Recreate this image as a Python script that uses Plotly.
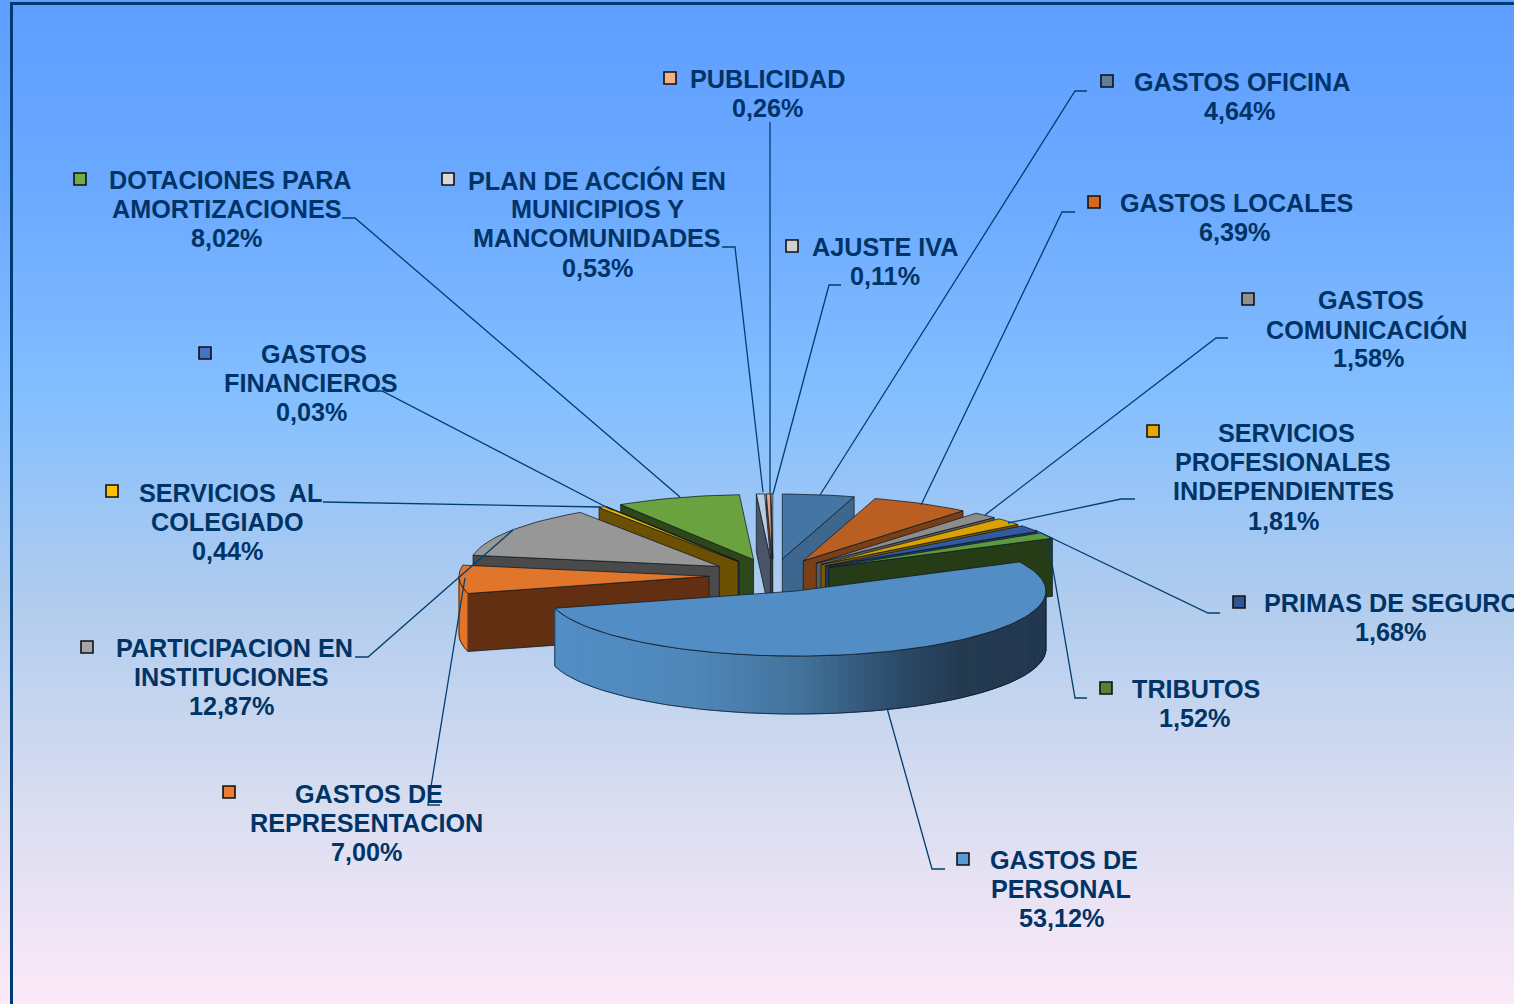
import math
import plotly.graph_objects as go

# ---------- data ----------
CATEGORIES = ["GASTOS OFICINA", "GASTOS LOCALES", "GASTOS COMUNICACIÓN", "SERVICIOS PROFESIONALES INDEPENDIENTES",
              "PRIMAS DE SEGURO", "TRIBUTOS", "GASTOS DE PERSONAL", "GASTOS DE REPRESENTACION",
              "PARTICIPACION EN INSTITUCIONES", "SERVICIOS AL COLEGIADO", "GASTOS FINANCIEROS",
              "DOTACIONES PARA AMORTIZACIONES", "PLAN DE ACCIÓN EN MUNICIPIOS Y MANCOMUNIDADES",
              "PUBLICIDAD", "AJUSTE IVA"]
VALUES = [4.64, 6.39, 1.58, 1.81, 1.68, 1.52, 53.12, 7.00, 12.87, 0.44, 0.03, 8.02, 0.53, 0.26, 0.11]
TOP_COLORS = ["#4575a2", "#b95f22", "#8c8c8c", "#dba100", "#325a9e", "#5d9a3e", "#528ec5", "#e0752c",
              "#979797", "#f5b800", "#3a66ad", "#69a23f", "#b8cce4", "#e8a584", "#c9c9c9"]
WALL_COLORS = ["#3e678f", "#7a3f16", "#5a5a5a", "#7a5a00", "#1f3866", "#263c16", "#3f6a92", "#632f12",
               "#4a4a4a", "#6a5000", "#1f3866", "#2d4719", "#4a5568", "#6b4a3a", "#555555"]
KEY_COLORS = ["#5f7f99", "#d2691e", "#909090", "#e6a800", "#2f5597", "#548235", "#5b9bd5", "#ed7d31",
              "#a5a5a5", "#ffc000", "#4472c4", "#70ad47", "#d9d9d9", "#f4b183", "#d0d0d0"]
LABEL_LINES = [["GASTOS OFICINA"], ["GASTOS LOCALES"], ["GASTOS", "COMUNICACIÓN"],
               ["SERVICIOS", "PROFESIONALES", "INDEPENDIENTES"], ["PRIMAS DE SEGURO"], ["TRIBUTOS"],
               ["GASTOS DE", "PERSONAL"], ["GASTOS DE", "REPRESENTACION"], ["PARTICIPACION EN", "INSTITUCIONES"],
               ["SERVICIOS\u00a0 AL", "COLEGIADO"], ["GASTOS", "FINANCIEROS"], ["DOTACIONES PARA", "AMORTIZACIONES"],
               ["PLAN DE ACCIÓN EN", "MUNICIPIOS Y", "MANCOMUNIDADES"], ["PUBLICIDAD"], ["AJUSTE IVA"]]

# ---------- layout (pixel space) ----------
W, H = 1514, 1004
CX, CY = 773, 575.5
RX, RY = 250, 65
DEPTH = 58
EXPLODE = 0.256
LABEL_X = [[1242, 1239], [1236, 1234], [1371, 1367, 1368], [1286, 1283, 1283, 1283], [1392, 1390], [1196, 1194],
           [1064, 1061, 1061], [369, 366, 366], [234, 231, 231], [230, 227, 227], [314, 311, 311], [230, 226, 226],
           [597, 597, 597, 597], [767, 767], [885, 885]]
LABEL_Y = [82, 203, 300, 433, 603, 689, 860, 794, 648, 493, 354, 180, 180, 79, 247]
KEY_X = [1107, 1094, 1248, 1153, 1239, 1106, 963, 229, 87, 112, 205, 80, 448, 670, 792]
KEY_Y = [81, 202, 299, 431, 602, 688, 859, 792, 647, 491, 353, 179, 179, 78, 246]
LEADERS = [
    [(1087, 91), (1075, 91), (820, 495)], [(1075, 212), (1062, 212), (921, 505)],
    [(1228, 338), (1216, 338), (985, 515)], [(1135, 499), (1121, 499), (1008, 523)],
    [(1220, 613), (1208, 613), (1035, 530)], [(1087, 698), (1075, 698), (1048, 540)],
    [(945, 869), (932, 869), (887, 708)], [(440, 805), (428, 805), (465, 578)],
    [(355, 657), (368, 657), (513, 530)], [(323, 502), (601, 507)],
    [(370, 391), (382, 391), (612, 510)], [(342, 218), (355, 218), (680, 497)],
    [(722, 247), (735, 247), (763, 492)], [(770, 122), (770, 494)], [(841, 285), (829, 285), (773, 494)],
]
TEXT_COLOR = "#003366"
LEADER_COLOR = "#003f70"
EDGE = "rgba(15,25,35,0.75)"
BG_STOPS = [(5, "#5e9eff"), (200, "#6caaff"), (400, "#84bfff"), (600, "#b0ccee"), (800, "#d8ddf0"), (1004, "#fce9f8")]
WALL_GRADIENT = [(551, "#528fc6"), (700, "#4f86b8"), (800, "#43729b"), (900, "#2b4a68"), (960, "#243a50"), (1050, "#22384f")]


def hex_rgb(c):
    return [int(c[i:i + 2], 16) for i in (1, 3, 5)]


def grad(x, stops):
    if x <= stops[0][0]:
        return stops[0][1]
    for (a, ca), (b, cb) in zip(stops, stops[1:]):
        if x <= b:
            t = (x - a) / (b - a)
            p, q = hex_rgb(ca), hex_rgb(cb)
            return "#%02x%02x%02x" % tuple(round(u + (v - u) * t) for u, v in zip(p, q))
    return stops[-1][1]


fig = go.Figure()

# background gradient
ys = [s[0] for s in BG_STOPS]
span = ys[-1] - ys[0]
fig.add_trace(go.Heatmap(
    x=[13, W], y=ys, z=[[y, y] for y in ys], zsmooth="best", showscale=False, hoverinfo="skip",
    colorscale=[[(y - ys[0]) / span, c] for y, c in BG_STOPS]))


def poly(pts, fill, line=None, width=1):
    xs = [p[0] for p in pts]
    yy = [p[1] for p in pts]
    fig.add_trace(go.Scatter(
        x=xs, y=yy, mode="lines", fill="toself" if fill else None, fillcolor=fill,
        line=dict(color=line or fill or "rgba(0,0,0,0)", width=width), hoverinfo="skip", showlegend=False))


total = sum(VALUES)
spans = []
acc = 0.0
for v in VALUES:
    spans.append((acc / total * 360, (acc + v) / total * 360))
    acc += v


def pt(ax, ay, deg):
    r = math.radians(deg)
    return (ax + RX * math.sin(r), ay - RY * math.cos(r))


# painter's order: back slices first
order = sorted(range(len(VALUES)), key=lambda i: math.cos(math.radians(sum(spans[i]) / 2)), reverse=True)
for i in order:
    a0, a1 = spans[i]
    mid = math.radians((a0 + a1) / 2)
    ax = CX + EXPLODE * RX * math.sin(mid)
    ay = CY - EXPLODE * RY * math.cos(mid)
    n = max(2, int((a1 - a0) / 2) + 1)
    arc = [pt(ax, ay, a0 + (a1 - a0) * k / n) for k in range(n + 1)]
    # only the radial wall that faces the viewer
    visible = []
    if math.sin(math.radians(a0)) < -1e-6:
        visible.append(arc[0])
    if math.sin(math.radians(a1)) > 1e-6:
        visible.append(arc[-1])
    for edge_pt in visible:
        poly([(ax, ay), edge_pt, (edge_pt[0], edge_pt[1] + DEPTH), (ax, ay + DEPTH), (ax, ay)],
             WALL_COLORS[i], EDGE)
    # front outer wall
    f0, f1 = max(a0, 90), min(a1, 270)
    if f1 > f0:
        m = max(1, int((f1 - f0) / 2))
        front = [pt(ax, ay, f0 + (f1 - f0) * k / m) for k in range(m + 1)]
        for p, q in zip(front, front[1:]):
            col = grad((p[0] + q[0]) / 2, WALL_GRADIENT) if VALUES[i] > 50 else TOP_COLORS[i]
            poly([p, q, (q[0], q[1] + DEPTH), (p[0], p[1] + DEPTH), p], col, col)
        outline = front + [(x, y + DEPTH) for x, y in reversed(front)] + [front[0]]
        poly(outline, None, EDGE)
    poly([(ax, ay)] + arc + [(ax, ay)], TOP_COLORS[i], EDGE)

# leader lines
for leader in LEADERS:
    fig.add_trace(go.Scatter(x=[p[0] for p in leader], y=[p[1] for p in leader], mode="lines",
                             line=dict(color=LEADER_COLOR, width=1.3), hoverinfo="skip", showlegend=False))

# legend keys
fig.add_trace(go.Scatter(x=KEY_X, y=KEY_Y, mode="markers", hoverinfo="skip", showlegend=False,
                         marker=dict(symbol="square", size=12, color=KEY_COLORS, line=dict(color="#111111", width=1.6))))

# labels
annotations = []
for i, lines in enumerate(LABEL_LINES):
    pct = f"{VALUES[i]:.2f}%".replace(".", ",")
    rows = lines + [pct]
    for k, text in enumerate(rows):
        annotations.append(dict(x=LABEL_X[i][k], y=LABEL_Y[i] + k * 29.2, xref="x", yref="y", text=text,
                                showarrow=False, xanchor="center", yanchor="middle",
                                font=dict(family="Liberation Sans", size=25.2, color=TEXT_COLOR, weight=700)))

frame = [
    dict(type="line", x0=11.5, x1=11.5, y0=2, y1=H, line=dict(color="#003c71", width=3), layer="above"),
    dict(type="line", x0=10, x1=W, y0=3.5, y1=3.5, line=dict(color="#003c71", width=3), layer="above"),
]

fig.update_layout(
    width=W, height=H, margin=dict(l=0, r=0, t=0, b=0), paper_bgcolor="#b8cbe6", plot_bgcolor="#b8cbe6",
    autosize=False, showlegend=False, annotations=annotations, shapes=frame, hovermode=False,
    xaxis=dict(range=[0, W], visible=False, fixedrange=True),
    yaxis=dict(range=[H, 0], visible=False, fixedrange=True),
)
fig.write_html("out.html", config={"displayModeBar": False},
               post_script="document.body.style.margin='0';document.body.style.overflow='hidden';")
